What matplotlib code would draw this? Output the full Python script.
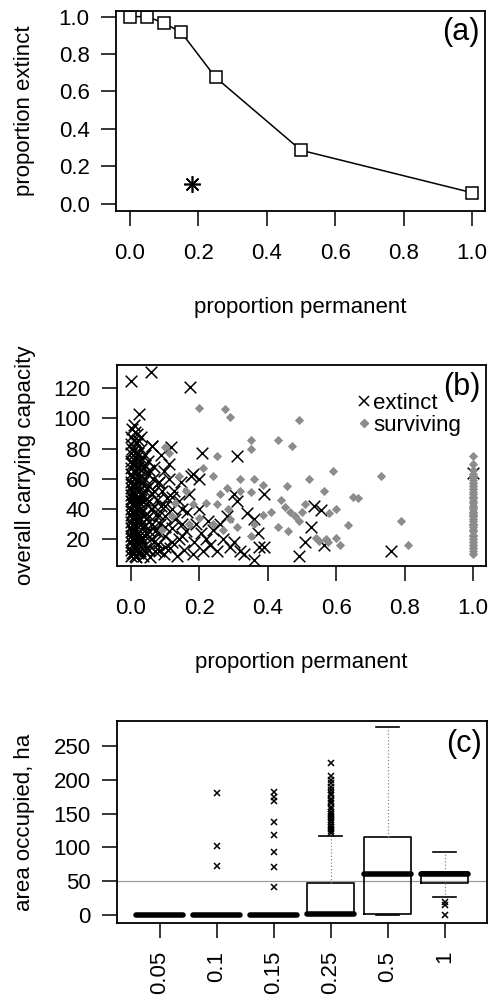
import matplotlib
matplotlib.use("Agg")
import matplotlib.pyplot as plt
from matplotlib.lines import Line2D

plt.rcParams['font.family'] = ['Liberation Sans', 'DejaVu Sans']

# (a) proportion extinct vs proportion permanent
perm = [0.0, 0.05, 0.1, 0.15, 0.25, 0.5, 1.0]
ext_prop = [1.0, 1.0, 0.965, 0.915, 0.675, 0.285, 0.058]
star_x, star_y = [0.18], [0.105]

# (b) carrying capacity scatter
ext_x = [0.0, 0.058, 0.173, 0.022, 0.207, 0.31, 0.06, 0.117, 0.088, 0.18, 0.2,
         0.30, 0.31, 0.39, 0.34, 0.36, 0.37, 0.375, 0.39, 0.36, 0.33, 0.29, 0.25,
         0.535, 0.555, 0.525, 0.51, 0.565, 0.49, 0.76, 1.0,
         0.0, 0.0, 0.0, 0.0, 0.0, 0.0, 0.0, 0.0, 0.0, 0.0, 0.0, 0.0, 0.0, 0.0,
         0.0, 0.0, 0.0, 0.0, 0.002,
         0.008, 0.008, 0.008, 0.008, 0.008, 0.008, 0.008, 0.008, 0.008, 0.008, 0.01,
         0.016, 0.016, 0.016, 0.016, 0.016, 0.016, 0.016, 0.016, 0.018, 0.018,
         0.025, 0.025, 0.025, 0.025, 0.025, 0.025, 0.025, 0.028, 0.03,
         0.035, 0.035, 0.035, 0.035, 0.035, 0.035, 0.038, 0.04,
         0.045, 0.045, 0.045, 0.045, 0.048, 0.05, 0.05,
         0.055, 0.058, 0.06, 0.06, 0.062, 0.065, 0.062,
         0.07, 0.07, 0.072, 0.075, 0.078,
         0.08, 0.085, 0.088, 0.09, 0.095,
         0.095, 0.1, 0.1, 0.105, 0.11, 0.11,
         0.115, 0.12, 0.12, 0.125, 0.13,
         0.135, 0.14, 0.14, 0.145, 0.15,
         0.155, 0.16, 0.165, 0.17, 0.175,
         0.18, 0.185, 0.19, 0.2, 0.205,
         0.21, 0.22, 0.225, 0.23, 0.24,
         0.26, 0.27, 0.28, 0.3, 0.32,
         0.003, 0.003, 0.003, 0.003, 0.003, 0.003, 0.003, 0.003, 0.003, 0.003,
         0.003, 0.003, 0.003, 0.003,
         0.012, 0.012, 0.012, 0.012, 0.012, 0.012, 0.012, 0.012, 0.012, 0.012,
         0.012, 0.012,
         0.02, 0.02, 0.02, 0.02, 0.02, 0.02, 0.02, 0.02, 0.02, 0.02, 0.02,
         0.03, 0.03, 0.03, 0.03, 0.03, 0.03, 0.03, 0.03, 0.03,
         0.04, 0.04, 0.04, 0.04, 0.04, 0.04, 0.04, 0.04,
         0.052, 0.052, 0.052, 0.052, 0.052, 0.052,
         0.066, 0.066, 0.066, 0.066, 0.066,
         0.082, 0.082, 0.082, 0.082,
         0.1, 0.1, 0.1, 0.12, 0.12, 0.15, 0.15]
ext_y = [125, 131, 121, 103, 77, 75, 82, 81, 76, 63, 60,
         50, 45, 50, 37, 33, 24, 15, 15, 6, 10, 15, 12,
         42, 39, 28, 18, 16, 9, 12, 64,
         9, 13, 18, 22, 27, 31, 36, 40, 45, 49, 54, 58, 63, 67,
         72, 77, 83, 88, 93,
         11, 16, 25, 33, 42, 51, 60, 69, 79, 86, 96,
         8, 20, 29, 38, 47, 56, 65, 74, 84, 90,
         12, 23, 34, 44, 53, 62, 71, 80, 88,
         9, 18, 27, 39, 49, 58, 67, 76,
         14, 24, 33, 43, 54, 63, 72,
         8, 20, 30, 40, 50, 60, 82,
         12, 25, 36, 46, 57,
         17, 30, 42, 52, 65,
         10, 22, 35, 47, 60, 70,
         14, 27, 40, 52, 33,
         9, 20, 45, 58, 30,
         13, 25, 38, 50, 62,
         10, 18, 30, 40, 24,
         12, 20, 32, 16, 26,
         30, 20, 35, 18, 12,
         11, 16, 20, 25, 29, 34, 38, 43, 47, 52, 56, 61, 70, 80,
         9, 14, 22, 28, 36, 44, 49, 55, 64, 72, 77, 91,
         11, 17, 24, 33, 41, 45, 51, 59, 68, 77, 86,
         15, 21, 30, 37, 46, 50, 57, 66, 74,
         12, 22, 29, 36, 46, 52, 60, 69,
         13, 25, 35, 45, 55, 66,
         18, 28, 42, 52, 68,
         12, 24, 36, 58,
         15, 28, 42, 18, 48, 22, 40]

surv_x = [0.2, 0.275, 0.29, 0.49, 0.35, 0.35, 0.43, 0.47, 0.25,
          0.59, 0.52, 0.73, 0.455, 0.565, 0.65, 0.665, 0.79, 0.635, 0.81,
          0.6, 0.58, 0.46, 0.43,
          0.45, 0.465, 0.48, 0.49, 0.5, 0.44, 0.51,
          0.54, 0.55, 0.57, 0.6, 0.61, 0.575,
          0.41, 0.385,
          0.32, 0.36, 0.385, 0.32, 0.35, 0.28, 0.26, 0.25, 0.285, 0.22, 0.21, 0.24,
          0.29, 0.31, 0.27, 0.24, 0.35, 0.36,
          0.1, 0.11, 0.14, 0.16, 0.13, 0.18, 0.12, 0.17, 0.2, 0.09]
surv_y = [107, 106, 101, 99, 86, 80, 86, 82, 75,
          65, 60, 62, 55, 52, 48, 47, 32, 29, 16,
          40, 37, 25, 28,
          41, 38, 35, 32, 38, 46, 43,
          21, 19, 20, 21, 16, 18,
          38, 36,
          60, 60, 56, 52, 51, 54, 50, 43, 40, 44, 67, 62,
          33, 28, 26, 30, 22, 30,
          81, 77, 62, 52, 44, 43, 35, 30, 34, 26]
perm_col_y = [75, 70, 66, 63, 61, 59, 57, 55, 53, 51, 50, 48, 47, 45, 44, 42,
              41, 40, 38, 37, 36, 35, 33, 32, 30, 29, 28, 26, 25, 23, 22, 20,
              18, 16, 14, 12, 10]
surv_x = surv_x + [1.0] * len(perm_col_y)
surv_y = surv_y + perm_col_y

# (c) area occupied boxplots
groups = ["0.05", "0.1", "0.15", "0.25", "0.5", "1"]
q1 = [0, 0, 0, 0, 1, 48]
med = [0, 0, 0, 1, 60, 60]
q3 = [0, 0, 0, 47, 115, 64]
whislo = [0, 0, 0, 0, 0, 27]
whishi = [0, 0, 0, 117, 278, 93]
fliers = [[],
          [180, 102, 73],
          [182, 175, 168, 138, 118, 93, 71, 41],
          [225, 205, 200, 195, 190, 185, 180, 177, 172, 168, 165, 160, 157, 153,
           150, 147, 143, 140, 137, 133, 130, 127, 124, 121],
          [],
          [20, 15, 0]]

FS = 16
W, H = 489, 999
fig = plt.figure(figsize=(W / 100, H / 100), dpi=100)


def make_ax(left, right, top, bottom):
    ax = fig.add_axes([left / W, (H - bottom) / H, (right - left) / W, (bottom - top) / H])
    for s in ax.spines.values():
        s.set_linewidth(1.3)
    ax.tick_params(direction="out", length=11, width=1.1, labelsize=FS, pad=8)
    ax.tick_params(axis="x", pad=12)
    return ax


# ---- (a)
ax1 = make_ax(116, 485, 11, 211)
ax1.plot(perm, ext_prop, color="black", lw=1.1, marker="s", ms=8.5,
         mfc="white", mec="black", mew=1.1)
ax1.plot(star_x, star_y, ls="none", marker=(8, 2, 0), ms=12, mec="black", mew=1.2)
ax1.set_xlim(-0.041, 1.038)
ax1.set_ylim(-0.04, 1.03)
ax1.set_xticks([0.0, 0.2, 0.4, 0.6, 0.8, 1.0])
ax1.set_xticklabels(["0.0", "0.2", "0.4", "0.6", "0.8", "1.0"])
ax1.set_yticks([0.0, 0.2, 0.4, 0.6, 0.8, 1.0])
ax1.set_yticklabels(["0.0", "0.2", "0.4", "0.6", "0.8", "1.0"])
ax1.set_xlabel("proportion permanent", fontsize=FS)
ax1.xaxis.set_label_coords(0.5, -0.485)
ax1.xaxis.label.set_va("center")
ax1.set_ylabel("proportion extinct", fontsize=FS)
ax1.yaxis.set_label_coords(-0.249, 0.5)
ax1.yaxis.label.set_va("center")
ax1.text(0.985, 0.895, "(a)", transform=ax1.transAxes, ha="right", va="center", fontsize=22)

# ---- (b)
ax2 = make_ax(117, 486, 365, 566)
ax2.scatter(ext_x, ext_y, marker="x", s=70, color="black", linewidths=1.1, zorder=2)
ax2.scatter(surv_x, surv_y, marker="D", s=22, color="#8c8c8c", linewidths=0, zorder=3)
ax2.set_xlim(-0.041, 1.038)
ax2.set_ylim(2.1, 135.5)
ax2.set_xticks([0.0, 0.2, 0.4, 0.6, 0.8, 1.0])
ax2.set_xticklabels(["0.0", "0.2", "0.4", "0.6", "0.8", "1.0"])
ax2.set_yticks([20, 40, 60, 80, 100, 120])
ax2.set_xlabel("proportion permanent", fontsize=FS)
ax2.xaxis.set_label_coords(0.5, -0.478)
ax2.xaxis.label.set_va("center")
ax2.set_ylabel("overall carrying capacity", fontsize=FS)
ax2.yaxis.set_label_coords(-0.249, 0.5)
ax2.yaxis.label.set_va("center")
ax2.text(0.985, 0.892, "(b)", transform=ax2.transAxes, ha="right", va="center", fontsize=22)
handles = [Line2D([], [], ls="none", marker="x", ms=7, mec="black", mew=1.1),
           Line2D([], [], ls="none", marker="D", ms=4, mfc="#8c8c8c", mec="#8c8c8c")]
ax2.legend(handles, ["extinct", "surviving"], loc="upper left",
           bbox_to_anchor=(0.655, 0.86), frameon=False, fontsize=FS,
           handlelength=0.5, handletextpad=0.15, labelspacing=0.05,
           borderpad=0, borderaxespad=0)

# ---- (c)
ax3 = make_ax(117, 487, 721, 923)
stats = []
for i in range(len(groups)):
    stats.append(dict(med=med[i], q1=q1[i], q3=q3[i], whislo=whislo[i],
                      whishi=whishi[i], fliers=fliers[i], label=groups[i]))
ax3.axhline(50, color="#9a9a9a", lw=0.9, zorder=0)
ax3.bxp(stats, positions=range(1, len(groups) + 1), widths=0.82,
        boxprops=dict(color="black", lw=1.2),
        medianprops=dict(color="black", lw=4, solid_capstyle="round"),
        whiskerprops=dict(color="#8a8a8a", lw=0.9, ls=":"),
        capprops=dict(color="black", lw=1.2),
        capwidths=0.4,
        flierprops=dict(marker="x", ms=5, mec="black", mew=1.1, ls="none"))
ax3.set_xlim(0.25, 6.74)
ax3.set_ylim(-11.8, 287)
ax3.set_yticks([0, 50, 100, 150, 200, 250])
ax3.set_xticks(range(1, len(groups) + 1))
ax3.set_xticklabels(groups, rotation=90)
ax3.tick_params(axis="x", pad=9)
ax3.set_ylabel("area occupied, ha", fontsize=FS)
ax3.yaxis.set_label_coords(-0.249, 0.5)
ax3.yaxis.label.set_va("center")
ax3.text(0.985, 0.886, "(c)", transform=ax3.transAxes, ha="right", va="center", fontsize=22)

fig.savefig("out.png", dpi=100)
